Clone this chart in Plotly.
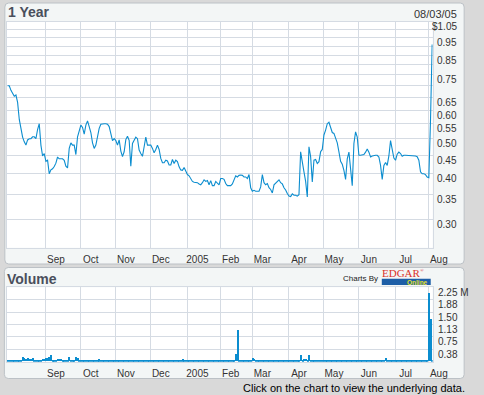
import math
import pandas as pd
import plotly.graph_objects as go

# ---------------- data ----------------
start_date = "2004-07-30"
end_date = "2005-08-03"
market_holidays = ["2004-09-06", "2004-11-25", "2004-12-24", "2005-01-17",
                   "2005-02-21", "2005-03-25", "2005-05-30", "2005-07-04"]
dates = [d for d in pd.bdate_range(start_date, end_date)
         if d.strftime("%Y-%m-%d") not in market_holidays]

price = [
    0.70, 0.70, 0.68, 0.665, 0.655, 0.66, 0.63, 0.565, 0.53, 0.505,
    0.49, 0.48, 0.496, 0.50, 0.50, 0.506, 0.506, 0.50, 0.53, 0.55,
    0.48, 0.448, 0.455, 0.433, 0.436, 0.40, 0.41, 0.413, 0.419, 0.428,
    0.445, 0.44, 0.44, 0.44, 0.436, 0.42, 0.415, 0.47, 0.487, 0.48,
    0.48, 0.452, 0.506, 0.53, 0.545, 0.537, 0.515, 0.545, 0.56, 0.54,
    0.52, 0.487, 0.47, 0.48, 0.504, 0.534, 0.548, 0.55, 0.55, 0.55,
    0.548, 0.54, 0.515, 0.494, 0.50, 0.494, 0.48, 0.496, 0.462, 0.446,
    0.46, 0.497, 0.508, 0.495, 0.42, 0.485, 0.495, 0.505, 0.50, 0.465,
    0.455, 0.447, 0.475, 0.505, 0.48, 0.48, 0.48, 0.47, 0.457, 0.467,
    0.48, 0.467, 0.441, 0.429, 0.429, 0.436, 0.434, 0.423, 0.423, 0.438,
    0.427, 0.436, 0.432, 0.418, 0.41, 0.409, 0.416, 0.407, 0.398, 0.395,
    0.388, 0.381, 0.379, 0.378, 0.378, 0.375, 0.373, 0.378, 0.385, 0.381,
    0.383, 0.373, 0.383, 0.371, 0.371, 0.381, 0.378, 0.373, 0.388, 0.388,
    0.386, 0.376, 0.371, 0.371, 0.371, 0.375, 0.388, 0.395, 0.392, 0.396,
    0.397, 0.396, 0.392, 0.392, 0.388, 0.398, 0.366, 0.358, 0.36, 0.358,
    0.358, 0.358, 0.368, 0.398, 0.378, 0.373, 0.376, 0.366, 0.362, 0.354,
    0.373, 0.377, 0.381, 0.385, 0.378, 0.375, 0.366, 0.361, 0.353, 0.347,
    0.346, 0.352, 0.349, 0.349, 0.347, 0.35, 0.46, 0.436, 0.405, 0.381,
    0.345, 0.475, 0.446, 0.38, 0.436, 0.438, 0.427, 0.432, 0.46, 0.467,
    0.512, 0.528, 0.55, 0.555, 0.54, 0.52, 0.517, 0.50, 0.487, 0.46,
    0.433, 0.425, 0.409, 0.386, 0.44, 0.459, 0.409, 0.371, 0.485, 0.522,
    0.505, 0.45, 0.45, 0.45, 0.452, 0.459, 0.468, 0.459, 0.445, 0.448,
    0.45, 0.45, 0.45, 0.445, 0.422, 0.386, 0.422, 0.43, 0.422, 0.448,
    0.494, 0.466, 0.442, 0.436, 0.453, 0.459, 0.455, 0.447, 0.45, 0.45,
    0.45, 0.45, 0.449, 0.449, 0.448, 0.448, 0.446, 0.436, 0.405, 0.40,
    0.40, 0.398, 0.392, 0.39, 0.56, 0.91,
]

volume_m = [
    0.02, 0.03, 0.02, 0.03, 0.02, 0.03, 0.02, 0.03, 0.02,
    0.12, 0.10, 0.08, 0.10, 0.07, 0.07, 0.09, 0.04, 0.04, 0.05,
    0.03, 0.04, 0.07, 0.07, 0.09, 0.10, 0.13, 0.18, 0.05, 0.03,
    0.05, 0.07, 0.07, 0.07, 0.03, 0.03, 0.03, 0.05, 0.12, 0.03,
    0.03, 0.05, 0.14, 0.09, 0.03, 0.02, 0.03, 0.02, 0.02, 0.03,
    0.02, 0.02, 0.03, 0.02, 0.03, 0.02, 0.06, 0.05, 0.02, 0.03,
    0.02, 0.02, 0.03, 0.02, 0.02, 0.02, 0.03, 0.02, 0.02, 0.02,
    0.02, 0.02, 0.03, 0.02, 0.02, 0.02, 0.03, 0.02, 0.02, 0.02,
    0.02, 0.03, 0.02, 0.02, 0.02, 0.03, 0.02, 0.02, 0.03, 0.02,
    0.02, 0.03, 0.04, 0.02, 0.02, 0.03, 0.02, 0.02, 0.03, 0.02,
    0.02, 0.03, 0.02, 0.03, 0.05, 0.04, 0.06, 0.03, 0.02, 0.03,
    0.02, 0.02, 0.03, 0.02, 0.02, 0.03, 0.02, 0.02, 0.03, 0.02,
    0.02, 0.02, 0.03, 0.02, 0.02, 0.03, 0.02, 0.02, 0.03, 0.02,
    0.02, 0.03, 0.05, 0.02, 0.03, 0.02, 0.03, 0.04, 0.22, 0.94,
    0.03, 0.02, 0.03, 0.02, 0.02, 0.03, 0.04, 0.03, 0.09, 0.07,
    0.03, 0.02, 0.02, 0.03, 0.05, 0.02, 0.02, 0.03, 0.02, 0.02,
    0.02, 0.03, 0.02, 0.02, 0.03, 0.02, 0.04, 0.02, 0.02, 0.03,
    0.02, 0.02, 0.03, 0.02, 0.02, 0.03, 0.02, 0.20, 0.04, 0.07,
    0.07, 0.03, 0.20, 0.03, 0.02, 0.02, 0.03, 0.02, 0.02, 0.03,
    0.02, 0.02, 0.03, 0.02, 0.02, 0.02, 0.03, 0.02, 0.02, 0.02,
    0.03, 0.02, 0.02, 0.02, 0.03, 0.02, 0.02, 0.02, 0.03, 0.02,
    0.02, 0.02, 0.03, 0.02, 0.02, 0.02, 0.03, 0.02, 0.02, 0.02,
    0.03, 0.02, 0.02, 0.02, 0.03, 0.02, 0.03, 0.03, 0.09, 0.02,
    0.02, 0.03, 0.02, 0.02, 0.02, 0.03, 0.02, 0.02, 0.02, 0.03,
    0.02, 0.02, 0.02, 0.03, 0.02, 0.02, 0.02, 0.03, 0.02, 0.02,
    0.02, 0.03, 0.02, 0.03, 2.08, 1.27, 0.03,
]

month_starts = ["2004-09-01", "2004-10-01", "2004-11-01", "2004-12-01", "2005-01-01",
                "2005-02-01", "2005-03-01", "2005-04-01", "2005-05-01", "2005-06-01",
                "2005-07-01", "2005-08-01"]
month_labels = ["Sep", "Oct", "Nov", "Dec", "2005", "Feb", "Mar", "Apr", "May", "Jun", "Jul", "Aug"]

price_grid = [0.25, 0.30, 0.35, 0.40, 0.45, 0.50, 0.55, 0.60, 0.65, 0.70, 0.75,
              0.80, 0.85, 0.90, 0.95, 1.00, 1.05]
price_label_vals = [1.05, 0.95, 0.85, 0.75, 0.65, 0.60, 0.55, 0.50, 0.45, 0.40, 0.35, 0.30]
price_label_txt = ["$1.05", "0.95", "0.85", "0.75", "0.65", "0.60", "0.55", "0.50",
                   "0.45", "0.40", "0.35", "0.30"]

vol_grid = [0.375, 0.75, 1.125, 1.5, 1.875, 2.25]
vol_label_txt = ["0.38", "0.75", "1.13", "1.50", "1.88", "2.25 M"]

# ---------------- layout helpers ----------------
W, H = 484, 395
assert len(dates) == len(price) == len(volume_m), (len(dates), len(price), len(volume_m))
idx = list(range(len(dates)))
date_txt = [d.strftime("%m/%d/%y") for d in dates]
month_idx = [next(i for i, d in enumerate(dates) if d >= pd.Timestamp(m)) for m in month_starts]


def px(x):
    return x / W


def py(y):
    return 1 - y / H


def rrect(x0, y0, x1, y1, r, fill, line):
    p = (f"M {px(x0 + r)},{py(y0)} L {px(x1 - r)},{py(y0)} Q {px(x1)},{py(y0)} {px(x1)},{py(y0 + r)} "
         f"L {px(x1)},{py(y1 - r)} Q {px(x1)},{py(y1)} {px(x1 - r)},{py(y1)} "
         f"L {px(x0 + r)},{py(y1)} Q {px(x0)},{py(y1)} {px(x0)},{py(y1 - r)} "
         f"L {px(x0)},{py(y0 + r)} Q {px(x0)},{py(y0)} {px(x0 + r)},{py(y0)} Z")
    return dict(type="path", xref="paper", yref="paper", path=p, fillcolor=fill,
                line=dict(color=line, width=1), layer="below")


FONT = "Arial, Liberation Sans, sans-serif"
SERIF = "Liberation Serif, DejaVu Serif, serif"
BLUE = "#0b8dcf"
GRID = "#d5dbe3"
PANEL = "#f3f6f6"
TXT = "#333333"
TITLE = "#4a4f5c"

PX_L, PX_R = 7, 446.5
P_TOP, P_BOT = 22, 247.7
V_TOP, V_BOT = 287.3, 361.7

fig = go.Figure()
fig.add_trace(go.Scatter(x=idx, y=price, mode="lines", line=dict(color=BLUE, width=1.1),
                         text=date_txt, hovertemplate="%{text}: $%{y:.3f}<extra></extra>",
                         xaxis="x", yaxis="y"))
fig.add_trace(go.Bar(x=idx, y=volume_m, width=0.6, marker=dict(color=BLUE, line=dict(width=0)),
                     text=date_txt, textposition="none",
                     hovertemplate="%{text}: %{y:.2f} M<extra></extra>",
                     xaxis="x2", yaxis="y2"))

xcommon = dict(range=[-0.5, 255.3], tickvals=month_idx, ticktext=month_labels,
               showgrid=True, gridcolor=GRID, gridwidth=1, showline=True, mirror=True,
               linecolor=GRID, linewidth=1, ticks="", zeroline=False,
               tickfont=dict(family=FONT, size=10, color=TXT), ticklabelshift=10,
               ticklabelstandoff=2, fixedrange=True, domain=[px(PX_L), px(PX_R)])

shapes = [
    rrect(5, 3, 479, 264, 4, PANEL, "#bcc1c6"),
    rrect(4.5, 267.5, 479, 378.5, 4, PANEL, "#bcc1c6"),
    dict(type="rect", xref="paper", yref="paper", x0=px(PX_L), x1=px(PX_R), y0=py(P_BOT), y1=py(P_TOP),
         fillcolor="white", line=dict(width=0), layer="below"),
    dict(type="rect", xref="paper", yref="paper", x0=px(PX_L), x1=px(PX_R), y0=py(V_BOT), y1=py(V_TOP),
         fillcolor="white", line=dict(width=0), layer="below"),
    dict(type="rect", xref="paper", yref="paper", x0=px(394), x1=px(444.5), y0=py(285), y1=py(278.8),
         fillcolor="#1d5ea6", line=dict(width=0), layer="above"),
]

annotations = [
    dict(text="<b>1 Year</b>", x=px(6.5), y=py(12), xref="paper", yref="paper", xanchor="left",
         yanchor="middle", showarrow=False, font=dict(family=FONT, size=14, color=TITLE)),
    dict(text="08/03/05", x=px(473.5), y=py(14), xref="paper", yref="paper", xanchor="right",
         yanchor="middle", showarrow=False, font=dict(family=FONT, size=11, color=TXT)),
    dict(text="<b>Volume</b>", x=px(5.5), y=py(279), xref="paper", yref="paper", xanchor="left",
         yanchor="middle", showarrow=False, font=dict(family=FONT, size=14, color=TITLE)),
    dict(text="Charts By", x=px(392), y=py(278), xref="paper", yref="paper", xanchor="right",
         yanchor="middle", showarrow=False, font=dict(family=FONT, size=8, color="#222222")),
    dict(text="EDGAR", x=px(393), y=py(272.5), xref="paper", yref="paper", xanchor="left",
         yanchor="middle", showarrow=False, borderpad=0,
         font=dict(family=SERIF, size=11, color="#d9332b")),
    dict(text="®", x=px(432), y=py(270), xref="paper", yref="paper", xanchor="left",
         yanchor="middle", showarrow=False, borderpad=0,
         font=dict(family=SERIF, size=5, color="#d9332b")),
    dict(text="<b>Online</b>", x=px(443.5), y=py(282), xref="paper", yref="paper", xanchor="right",
         yanchor="middle", showarrow=False, font=dict(family=FONT, size=6.5, color="#e6e12a")),
    dict(text="Click on the chart to view the underlying data.", x=px(481.5), y=py(388),
         xref="paper", yref="paper", xanchor="right", yanchor="middle", showarrow=False,
         font=dict(family=FONT, size=11, color="#000000")),
]
for v, t in zip(price_label_vals, price_label_txt):
    annotations.append(dict(text=t, x=px(473.5), y=math.log10(v), xref="paper", yref="y",
                            xanchor="right", yanchor="middle", yshift=-5, showarrow=False,
                            font=dict(family=FONT, size=10, color=TXT)))
for v, t in zip(vol_grid, vol_label_txt):
    annotations.append(dict(text=t, x=px(449.5), y=v, xref="paper", yref="y2",
                            xanchor="left", yanchor="middle", yshift=-5, showarrow=False,
                            font=dict(family=FONT, size=10, color=TXT)))

fig.update_layout(
    width=W, height=H, margin=dict(l=0, r=0, t=0, b=0),
    paper_bgcolor="#d9d9d9", plot_bgcolor="rgba(0,0,0,0)",
    showlegend=False, bargap=0,
    xaxis=dict(anchor="y", **xcommon),
    yaxis=dict(anchor="x", type="log", range=[math.log10(0.25), math.log10(1.05)],
               domain=[py(P_BOT), py(P_TOP)], tickvals=price_grid, showticklabels=False,
               showgrid=True, gridcolor=GRID, gridwidth=1, showline=True, mirror=True,
               linecolor=GRID, ticks="", zeroline=False, fixedrange=True),
    xaxis2=dict(anchor="y2", **xcommon),
    yaxis2=dict(anchor="x2", range=[0, 2.25], domain=[py(V_BOT), py(V_TOP)], tickvals=vol_grid,
                showticklabels=False, showgrid=True, gridcolor=GRID, gridwidth=1, showline=True,
                mirror=True, linecolor=GRID, ticks="", zeroline=False, fixedrange=True),
    shapes=shapes, annotations=annotations,
)

fig.write_html("out.html", config={"displayModeBar": False},
               post_script="document.body.style.margin='0px';document.body.style.overflow='hidden';")
